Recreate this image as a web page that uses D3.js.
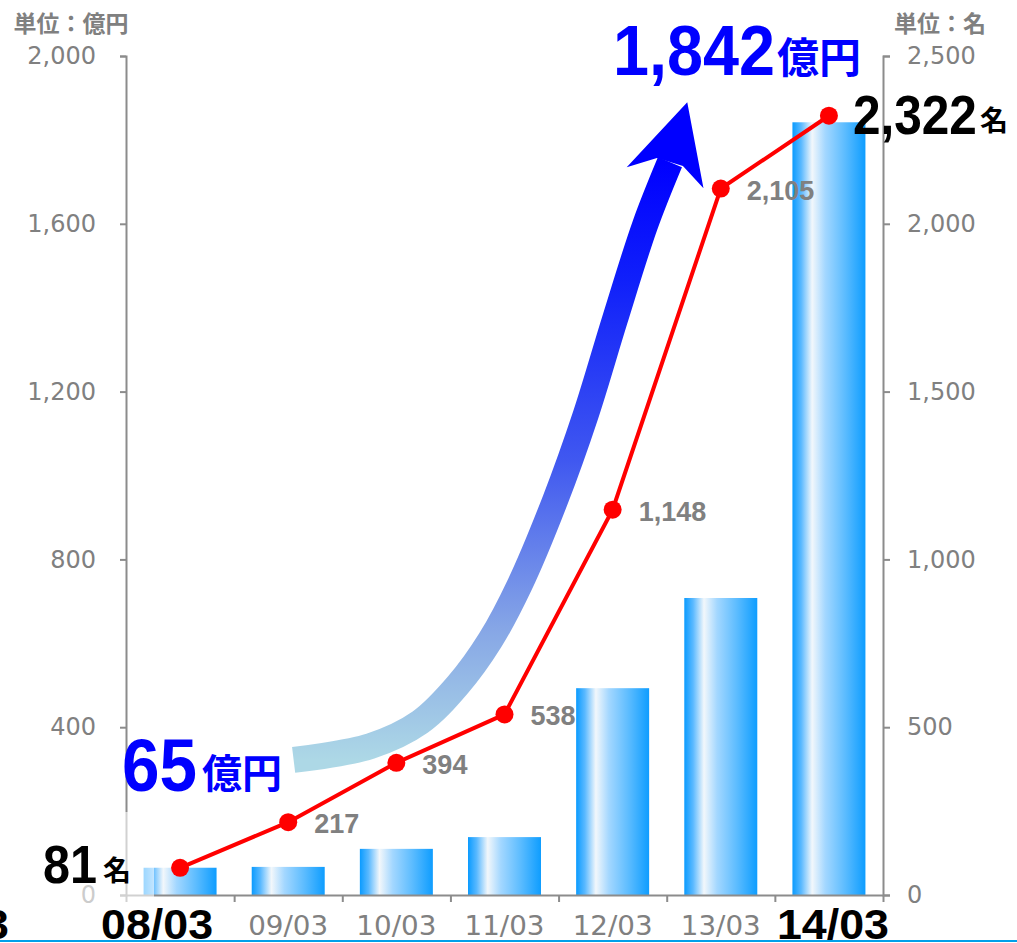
<!DOCTYPE html>
<html>
<head>
<meta charset="utf-8">
<script src="https://cdn.jsdelivr.net/npm/d3@7"></script>
<style>
  body { margin: 0; background: #fff; }
</style>
</head>
<body>
<div id="chart"></div>
<script>
const categories = ["08/03", "09/03", "10/03", "11/03", "12/03", "13/03", "14/03"];
const sales = [65, 67, 110, 138, 493, 708, 1842];      // 億円 (bars, left axis)
const staff = [81, 217, 394, 538, 1148, 2105, 2322];   // 名 (line, right axis)
const salesTicks = [0, 400, 800, 1200, 1600, 2000];
const staffTicks = [0, 500, 1000, 1500, 2000, 2500];
// growth arrow, in data units: [category index, 億円]
const arrowPath = [[1.05, 322], [1.76, 355], [2.22, 412], [2.57, 501], [2.87, 608], [3.14, 739],
                   [3.47, 942], [3.75, 1144], [4.02, 1371], [4.30, 1597], [4.53, 1747]];
const arrowHead = [[4.41, 1757], [4.13, 1735], [4.69, 1890], [4.84, 1685], [4.65, 1738]];

const W = 1017, H = 943;
const gray = "#808080";
const axisColor = "#8c8c8c";
const jp = "Noto Sans CJK JP";
const num = "Liberation Sans";

const svg = d3.select("#chart").append("svg").attr("width", W).attr("height", H);
const defs = svg.append("defs");

const barGrad = defs.append("linearGradient").attr("id", "barGrad")
    .attr("x1", 0).attr("x2", 1).attr("y1", 0).attr("y2", 0);
[[0, "#0a9bff"], [0.12, "#5ab9ff"], [0.27, "#f2f7fb"], [0.45, "#a3d7ff"], [0.72, "#5cbcff"], [1, "#0e9dff"]]
  .forEach(([o, c]) => barGrad.append("stop").attr("offset", o).attr("stop-color", c));

const x = d3.scaleBand().domain(categories).range([126, 883]);
const xc = d => x(d) + x.bandwidth() / 2;
const xi = d3.scaleLinear().domain([0, 6]).range([xc(categories[0]), xc(categories[6])]);
const xb = d3.scaleLinear().domain([0, 7]).range([126, 883]);
const yL = d3.scaleLinear().domain([0, 2000]).range([895, 56]);
const yR = d3.scaleLinear().domain([0, 2500]).range([895, 56]);
const barW = x.bandwidth() * 0.675;

const styleAxis = (g, size) => {
  g.attr("color", axisColor).attr("font-family", "DejaVu Sans").attr("font-size", size);
  g.selectAll("path, line").attr("stroke-width", 2);
  g.selectAll("text").attr("fill", gray);
};

// bars
svg.append("g").selectAll("rect")
    .data(categories)
  .enter().append("rect")
    .attr("x", d => xc(d) - barW / 2)
    .attr("y", (d, i) => yL(sales[i]))
    .attr("width", barW)
    .attr("height", (d, i) => yL(0) - yL(sales[i]))
    .attr("fill", "url(#barGrad)");

// axes
svg.append("g").attr("transform", "translate(126,0)")
    .call(d3.axisLeft(yL).tickValues(salesTicks).tickSize(6).tickPadding(24).tickFormat(d3.format(",")))
    .call(g => styleAxis(g, 24));
svg.append("g").attr("transform", "translate(883,0)")
    .call(d3.axisRight(yR).tickValues(staffTicks).tickSize(7).tickPadding(17).tickFormat(d3.format(",")))
    .call(g => styleAxis(g, 24));
svg.append("g").attr("transform", "translate(0,895)")
    .call(d3.axisBottom(xb).ticks(7).tickSize(7).tickSizeOuter(0).tickFormat(""))
    .call(g => styleAxis(g, 24));

// faded box behind "81名"
svg.append("rect").attr("x", 0).attr("y", 812).attr("width", 154).attr("height", 93)
    .attr("fill", "#fff").attr("opacity", 0.6);

// category labels
svg.append("g").selectAll("text")
    .data(categories.slice(1, 6))
  .enter().append("text")
    .attr("x", xc).attr("y", 935)
    .attr("text-anchor", "middle")
    .attr("font-family", "DejaVu Sans").attr("font-size", 26).attr("fill", gray)
    .attr("textLength", 80).attr("lengthAdjust", "spacingAndGlyphs")
    .text(d => d);
[[categories[0], -23], [categories[6], 4]].forEach(([c, dx]) => {
  svg.append("text")
      .attr("x", xc(c) + dx).attr("y", 939).attr("text-anchor", "middle")
      .attr("font-family", num).attr("font-weight", "bold").attr("font-size", 42)
      .attr("textLength", 112).attr("lengthAdjust", "spacingAndGlyphs")
      .text(c);
});
// clipped leftover at left edge
svg.append("text").attr("x", 9).attr("y", 939).attr("text-anchor", "end")
    .attr("font-family", num).attr("font-weight", "bold").attr("font-size", 42)
    .attr("textLength", 112).attr("lengthAdjust", "spacingAndGlyphs")
    .text(categories[0]);

// units
svg.append("text").attr("x", 71).attr("y", 32).attr("text-anchor", "middle")
    .attr("font-family", jp).attr("font-weight", "bold").attr("font-size", 23).attr("fill", gray)
    .text("単位：億円");
svg.append("text").attr("x", 940).attr("y", 32).attr("text-anchor", "middle")
    .attr("font-family", jp).attr("font-weight", "bold").attr("font-size", 23).attr("fill", gray)
    .text("単位：名");

// growth arrow
const arrowGrad = defs.append("linearGradient").attr("id", "arrowGrad")
    .attr("gradientUnits", "userSpaceOnUse")
    .attr("x1", 0).attr("x2", 0)
    .attr("y1", yL(arrowPath[0][1])).attr("y2", yL(arrowPath[arrowPath.length - 1][1]));
[[0, "#add8e6"], [0.22, "#86a6e6"], [0.5, "#4058f0"], [0.8, "#1020fa"], [1, "#0000ff"]]
  .forEach(([o, c]) => arrowGrad.append("stop").attr("offset", o).attr("stop-color", c));

svg.append("path")
    .attr("d", d3.line().x(d => xi(d[0])).y(d => yL(d[1])).curve(d3.curveCatmullRom)(arrowPath))
    .attr("fill", "none")
    .attr("stroke", "url(#arrowGrad)")
    .attr("stroke-width", 26);
svg.append("polygon")
    .attr("points", arrowHead.map(d => [xi(d[0]), yL(d[1])].join(",")).join(" "))
    .attr("fill", "#0000ff");

// staff line
svg.append("path")
    .attr("d", d3.line().x(d => xc(d)).y((d, i) => yR(staff[i]))(categories))
    .attr("fill", "none")
    .attr("stroke", "#ff0000")
    .attr("stroke-width", 4);
svg.append("g").selectAll("circle")
    .data(categories)
  .enter().append("circle")
    .attr("cx", xc)
    .attr("cy", (d, i) => yR(staff[i]))
    .attr("r", 9)
    .attr("fill", "#ff0000");

// staff value labels
svg.append("g").selectAll("text")
    .data(staff.slice(1, 6))
  .enter().append("text")
    .attr("x", (d, i) => xc(categories[i + 1]) + 26)
    .attr("y", d => yR(d) + 11)
    .attr("font-family", num).attr("font-weight", "bold").attr("font-size", 27).attr("fill", gray)
    .text(d3.format(","));

// highlighted values
const big = (xPos, yPos, size, len, color, str, unit, uSize, uDx, uDy) => {
  svg.append("text").attr("x", xPos).attr("y", yPos)
      .attr("font-family", num).attr("font-weight", "bold").attr("font-size", size).attr("fill", color)
      .attr("textLength", len).attr("lengthAdjust", "spacingAndGlyphs")
      .text(str);
  svg.append("text").attr("x", xPos + len + uDx).attr("y", yPos + uDy)
      .attr("font-family", jp).attr("font-weight", "bold").attr("font-size", uSize).attr("fill", color)
      .text(unit);
};
const fmt = d3.format(",");
big(613, 75, 70, 162, "#0000ff", fmt(sales[6]), "億円", 42, 2, -2);
big(122, 791, 75, 75, "#0000ff", fmt(sales[0]), "億円", 40, 5, -3);
big(xc(categories[6]) + 24, yR(staff[6]) + 18, 56, 124, "#000", fmt(staff[6]), "名", 28, 3, -3);
big(43, 883, 53, 54, "#000", fmt(staff[0]), "名", 28, 6, -2);

// bottom rule
svg.append("rect").attr("x", 0).attr("y", 940).attr("width", W).attr("height", 2).attr("fill", "#00a0e9");
</script>
</body>
</html>
